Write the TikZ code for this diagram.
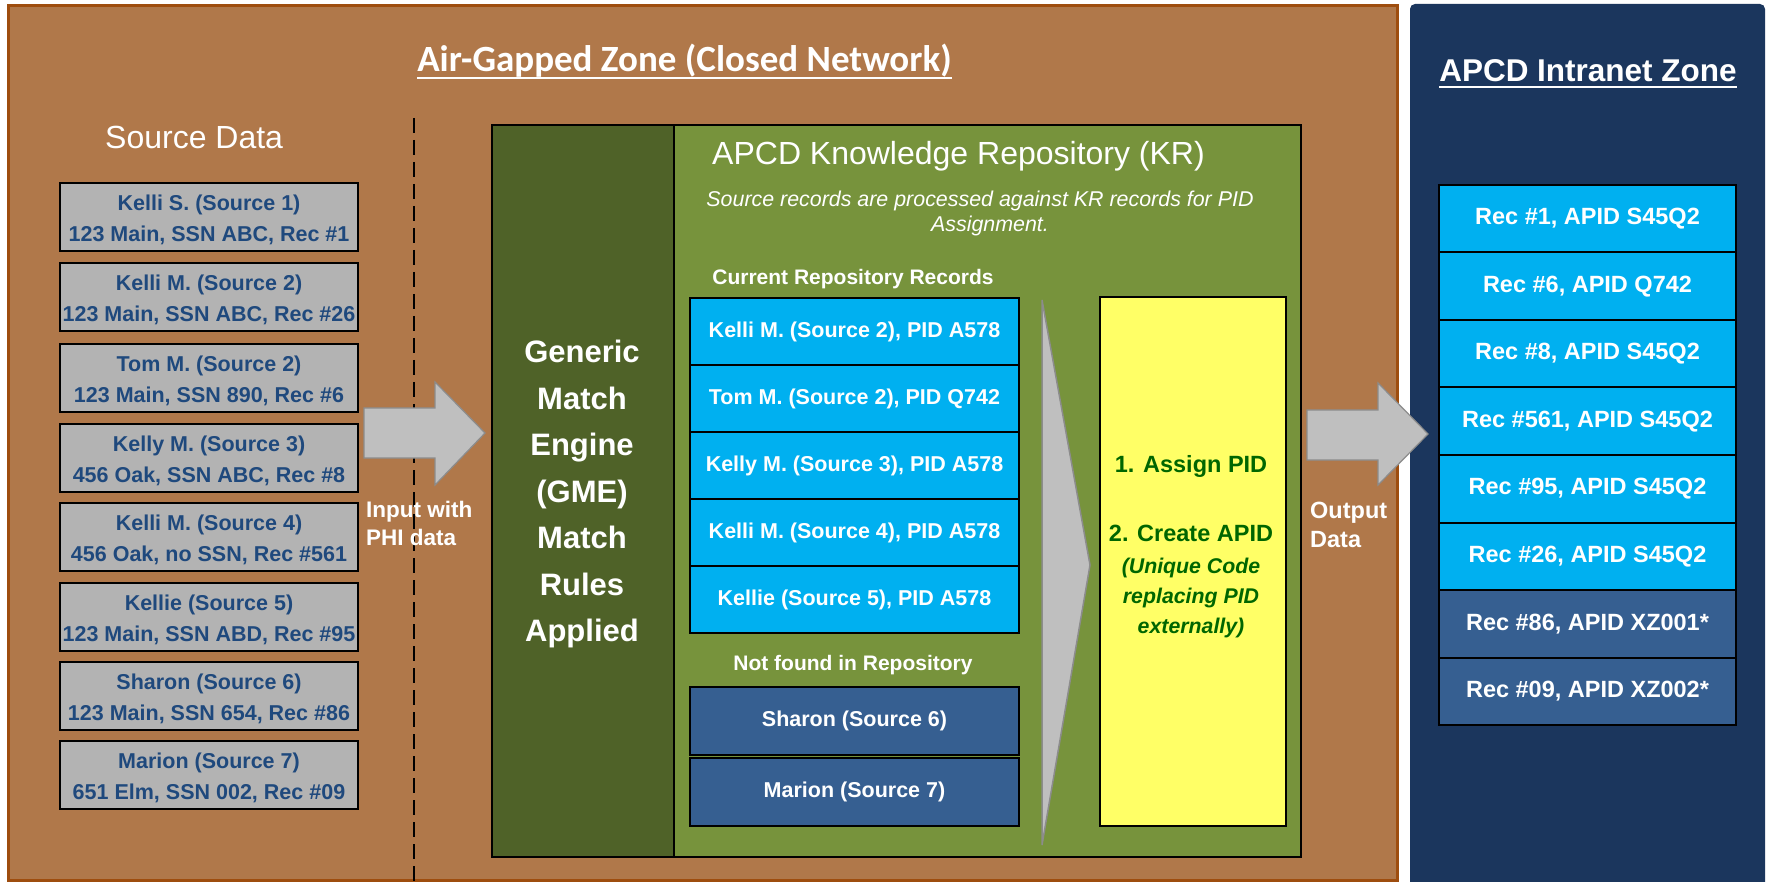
\documentclass[tikz,border=0pt]{standalone}
\usepackage{fontspec}
\setmainfont{Liberation Sans}
\newfontfamily\carlito{Carlito}
\usetikzlibrary{calc}
\definecolor{brownfill}{HTML}{B0784A}
\definecolor{brownedge}{HTML}{9E4D0E}
\definecolor{navy}{HTML}{1B365D}
\definecolor{gmegreen}{HTML}{4F6228}
\definecolor{krgreen}{HTML}{77933C}
\definecolor{cyanrec}{HTML}{00B0F0}
\definecolor{bluerec}{HTML}{365F91}
\definecolor{srcgray}{HTML}{B3B3B3}
\definecolor{srctext}{HTML}{1F497D}
\definecolor{arrowgray}{HTML}{BFBFBF}
\definecolor{arrowedge}{HTML}{8C8C8C}
\definecolor{yel}{HTML}{FFFF66}
\definecolor{dgreen}{HTML}{006600}
\newcommand\fsz[2]{\fontsize{#1}{#2}\selectfont}
\newcommand\lift{\rule{0pt}{22pt}}
\begin{document}
\begin{tikzpicture}[x=1pt,y=-1pt,
  srcbox/.style={draw=black,line width=2pt,fill=srcgray,minimum width=298pt,minimum height=68pt,anchor=north west,inner sep=0pt,align=center,text=srctext,font=\bfseries\fsz{21.5}{31}},
  recbox/.style={draw=black,line width=2pt,fill=cyanrec,minimum width=329pt,minimum height=67pt,anchor=north west,inner sep=0pt,text=white,font=\bfseries\fsz{21.5}{26}},
  nfbox/.style={recbox,fill=bluerec,minimum height=68pt},
  outbox/.style={draw=black,line width=2pt,fill=cyanrec,minimum width=297pt,minimum height=67.5pt,anchor=north west,inner sep=0pt,text=white,font=\bfseries\fsz{23.5}{28}},
  outdark/.style={outbox,fill=bluerec},
  wlabel/.style={text=white,inner sep=0pt},
  blockarrow/.style={fill=arrowgray,draw=arrowedge,line width=1.2pt,line join=miter},
  yeltext/.style={text=dgreen,inner sep=0pt,anchor=base}
]
\useasboundingbox (0,0) rectangle (1767,882);
\fill[white] (0,0) rectangle (1767,882);

% zones
\draw[draw=brownedge,fill=brownfill,line width=3pt] (8,6) rectangle (1397,880);
\fill[navy,rounded corners=5pt] (1410,4) rectangle (1765,892);

% titles
\node[wlabel,anchor=base,font=\carlito\bfseries\fsz{37}{40}] (airtitle) at (684.5,72) {Air-Gapped Zone (Closed Network)};
\draw[white,line width=2.5pt] ($(airtitle.base west)+(0,6)$) -- ($(airtitle.base east)+(0,6)$);
\node[wlabel,anchor=base,font=\bfseries\fsz{31.5}{34}] (intitle) at (1588,82) {APCD Intranet Zone};
\draw[white,line width=2.5pt] ($(intitle.base west)+(0,5)$) -- ($(intitle.base east)+(0,5)$);

% source data
\node[wlabel,anchor=base west,font=\fsz{32}{36}] (srctitle) at (105,149) {Source Data};
\node[srcbox] (s1) at (59,182) {\lift Kelli S. (Source 1)\\123 Main, SSN ABC, Rec \#1};
\node[srcbox] (s2) at (59,262) {\lift Kelli M. (Source 2)\\123 Main, SSN ABC, Rec \#26};
\node[srcbox] (s3) at (59,343) {\lift Tom M. (Source 2)\\123 Main, SSN 890, Rec \#6};
\node[srcbox] (s4) at (59,423) {\lift Kelly M. (Source 3)\\456 Oak, SSN ABC, Rec \#8};
\node[srcbox] (s5) at (59,502) {\lift Kelli M. (Source 4)\\456 Oak, no SSN, Rec \#561};
\node[srcbox] (s6) at (59,582) {\lift Kellie (Source 5)\\123 Main, SSN ABD, Rec \#95};
\node[srcbox] (s7) at (59,661) {\lift Sharon (Source 6)\\123 Main, SSN 654, Rec \#86};
\node[srcbox] (s8) at (59,740) {\lift Marion (Source 7)\\651 Elm, SSN 002, Rec \#09};

% dashed divider
\coordinate (dtop) at (414,118);
\coordinate (dbot) at (414,882);
\draw[line width=2pt,dash pattern=on 15pt off 7pt] (dtop) -- (dbot);

% input arrow
\draw[blockarrow] (364,408) -- (435,408) -- (435,382) -- (485,433) -- (435,485) -- (435,458) -- (364,458) -- cycle;
\node[wlabel,anchor=base west,font=\bfseries\fsz{22.5}{26}] (in1) at (366,517) {Input with};
\node[wlabel,anchor=base west,font=\bfseries\fsz{22.5}{26}] (in2) at (366,545) {PHI data};

% GME and KR
\node[draw=black,line width=2pt,fill=gmegreen,minimum width=182pt,minimum height=732pt,anchor=north west,inner sep=0pt] (gme) at (491,124) {};
\node[draw=black,line width=2pt,fill=krgreen,minimum width=627pt,minimum height=732pt,anchor=north west,inner sep=0pt] (kr) at (673,124) {};
\node[wlabel,align=center,font=\bfseries\fsz{31}{46.5}] (gmetext) at (582,494) {Generic\\Match\\Engine\\(GME)\\Match\\Rules\\Applied};

\node[wlabel,anchor=base west,font=\fsz{32}{36}] (krtitle) at (712,165) {APCD Knowledge Repository (KR)};
\node[wlabel,anchor=base,font=\itshape\fsz{21.4}{25}] (kri1) at (980,207) {Source records are processed against KR records for PID};
\node[wlabel,anchor=base,font=\itshape\fsz{21.4}{25}] (kri2) at (990,232) {Assignment.};

\node[wlabel,anchor=base,font=\bfseries\fsz{21}{25}] (curr) at (853,285) {Current Repository Records};
\node[recbox] (r1) at (689,297) {Kelli M. (Source 2), PID A578};
\node[recbox] (r2) at (689,364) {Tom M. (Source 2), PID Q742};
\node[recbox] (r3) at (689,431) {Kelly M. (Source 3), PID A578};
\node[recbox] (r4) at (689,498) {Kelli M. (Source 4), PID A578};
\node[recbox] (r5) at (689,565) {Kellie (Source 5), PID A578};

\node[wlabel,anchor=base,font=\bfseries\fsz{21}{25}] (nf) at (853,670) {Not found in Repository};
\node[nfbox] (n1) at (689,686) {Sharon (Source 6)};
\node[nfbox] (n2) at (689,757) {Marion (Source 7)};

% chevron
\draw[fill=arrowgray,draw=arrowedge,line width=1.5pt] (1042,300) -- (1090,565) -- (1042,845) -- cycle;

% yellow action box
\node[draw=black,line width=2pt,fill=yel,minimum width=186pt,minimum height=529pt,anchor=north west,inner sep=0pt] (act) at (1099,296) {};
\node[yeltext,font=\bfseries\fsz{23.5}{28}] (a1) at (1191,472) {1. Assign PID};
\node[yeltext,font=\bfseries\fsz{23.5}{28}] (a2) at (1191,541) {2. Create APID};
\node[yeltext,font=\bfseries\itshape\fsz{21.3}{26}] (a3) at (1191,573) {(Unique Code};
\node[yeltext,font=\bfseries\itshape\fsz{21.3}{26}] (a4) at (1191,603) {replacing PID};
\node[yeltext,font=\bfseries\itshape\fsz{21.3}{26}] (a5) at (1191,633) {externally)};

% output arrow
\draw[blockarrow] (1307,410) -- (1378,410) -- (1378,383) -- (1428,434) -- (1378,485) -- (1378,460) -- (1307,460) -- cycle;
\node[wlabel,anchor=base west,font=\bfseries\fsz{23.5}{28}] (o1) at (1310,518) {Output};
\node[wlabel,anchor=base west,font=\bfseries\fsz{23.5}{28}] (o2) at (1310,547) {Data};

% intranet records
\node[outbox] (p1) at (1438,184) {Rec \#1, APID S45Q2};
\node[outbox] (p2) at (1438,251.5) {Rec \#6, APID Q742};
\node[outbox] (p3) at (1438,319) {Rec \#8, APID S45Q2};
\node[outbox] (p4) at (1438,386.5) {Rec \#561, APID S45Q2};
\node[outbox] (p5) at (1438,454) {Rec \#95, APID S45Q2};
\node[outbox] (p6) at (1438,521.5) {Rec \#26, APID S45Q2};
\node[outdark] (p7) at (1438,589) {Rec \#86, APID XZ001*};
\node[outdark] (p8) at (1438,656.5) {Rec \#09, APID XZ002*};
\end{tikzpicture}
\end{document}
